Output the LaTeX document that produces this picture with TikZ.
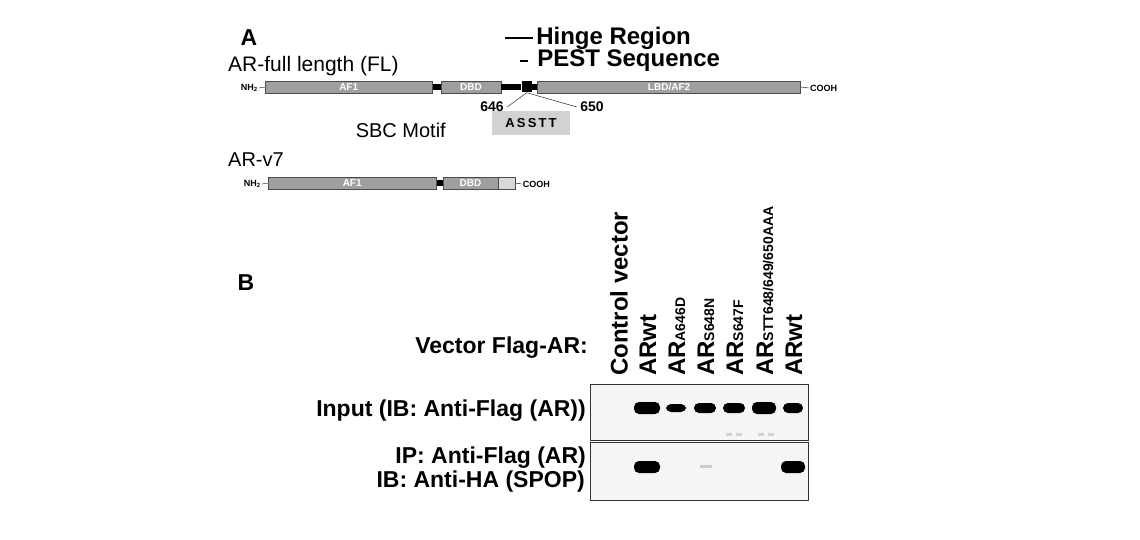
\documentclass[tikz,border=0pt]{standalone}
\usepackage{fontspec}
\setmainfont{Liberation Sans}
\usetikzlibrary{positioning, calc}
\tikzstyle{dombox} = [draw=black!70, fill=gray!75, text=white, inner sep=0pt, minimum height=12pt, font=\fontsize{10}{10}\selectfont\bfseries, anchor=west]
\tikzstyle{linkbar} = [fill=black, inner sep=0pt, minimum height=6pt, anchor=west]
\tikzstyle{termtext} = [font=\fontsize{9}{9}\selectfont\bfseries, inner sep=1pt]
\tikzstyle{lanetext} = [rotate=90, anchor=west, font=\fontsize{24}{24}\selectfont\bfseries, inner sep=0pt]
\tikzstyle{blot} = [draw=black!80, fill=gray!8, line width=1pt]
\tikzstyle{band} = [fill=black, rounded corners=5pt]
\tikzstyle{rowlabel} = [anchor=east, font=\fontsize{23}{23}\selectfont\bfseries, inner sep=0pt]

\begin{document}
\begin{tikzpicture}[x=1pt, y=-1pt]
        \useasboundingbox (0,0) rectangle (1140,540);

        % Panel A
        \node[font=\fontsize{23}{23}\selectfont\bfseries] (A) at (249,38) {A};
        \coordinate (hl) at (505,38);
        \coordinate (pl) at (520,61);
        \draw[line width=2.5pt] (hl) -- ++(28,0) node[right, inner sep=2pt, font=\fontsize{24}{24}\selectfont\bfseries] (hinge) {Hinge Region};
        \draw[line width=2.5pt] (pl) -- ++(8,0) node[right, inner sep=8pt, font=\fontsize{24}{24}\selectfont\bfseries] (pest) {PEST Sequence};
        \node[anchor=west, font=\fontsize{21}{21}\selectfont, inner sep=0pt] (fl) at (228,66) {AR-full length (FL)};

        % Full length bar
        \node[termtext, anchor=east] (nh) at (259,88) {NH\textsubscript{2}};
        \node[dombox, minimum width=167pt] (af1) at (265,87) {AF1};
        \node[linkbar, minimum width=8pt] (k1) at (af1.east) {};
        \node[dombox, minimum width=60pt] (dbd) at (k1.east) {DBD};
        \node[linkbar, minimum width=20pt] (hr) at (dbd.east) {};
        \node[fill=black, inner sep=0pt, minimum width=10pt, minimum height=11pt, anchor=west] (ps) at (hr.east) {};
        \node[linkbar, minimum width=5pt] (k2) at (ps.east) {};
        \node[dombox, minimum width=263pt] (lbd) at (k2.east) {LBD/AF2};
        \node[termtext, anchor=west] (cooh) at ($(lbd.east)+(8,1)$) {COOH};
        \draw (nh.east) -- (af1.west);
        \draw (lbd.east) -- (cooh.west);

        % SBC motif
        \node[fill=gray!35, minimum width=78pt, minimum height=24pt, inner sep=0pt, font=\fontsize{13}{13}\selectfont\bfseries] (sbc) at (531,123) {A\,S\,S\,T\,T};
        \node[font=\fontsize{14}{14}\selectfont\bfseries] (n646) at (492,107) {646};
        \node[font=\fontsize{14}{14}\selectfont\bfseries] (n650) at (592,107) {650};
        \draw (ps.south) -- (n646.east);
        \draw (ps.south) -- (n650.west);
        \node[anchor=east, font=\fontsize{20}{20}\selectfont, inner sep=0pt] (sbct) at (446,130) {SBC Motif};

        % AR-v7 bar
        \node[anchor=west, font=\fontsize{20}{20}\selectfont, inner sep=0pt] (v7) at (228,160) {AR-v7};
        \node[termtext, anchor=east] (nh7) at (262,184) {NH\textsubscript{2}};
        \node[dombox, minimum width=168pt] (af17) at (268,183) {AF1};
        \node[linkbar, minimum width=6pt] (k7) at (af17.east) {};
        \node[dombox, minimum width=55pt] (dbd7) at (k7.east) {DBD};
        \node[dombox, fill=gray!30, minimum width=17pt] (cr7) at (dbd7.east) {};
        \node[termtext, anchor=west] (cooh7) at ($(cr7.east)+(6,1)$) {COOH};
        \draw (nh7.east) -- (af17.west);
        \draw (cr7.east) -- (cooh7.west);

        % Panel B
        \node[font=\fontsize{23}{23}\selectfont\bfseries] (B) at (246,283) {B};
        \node[rowlabel] (vec) at (588,348) {Vector Flag-AR:};
        \foreach \i/\x/\lbl in {1/618/Control vector, 2/647/ARwt,
            3/676/AR{\fontsize{14}{14}\selectfont A646D}, 4/705/AR{\fontsize{14}{14}\selectfont S648N},
            5/734/AR{\fontsize{14}{14}\selectfont S647F}, 6/764/AR{\fontsize{14}{14}\selectfont STT648/649/650AAA},
            7/793/ARwt}
          \node[lanetext] (ln\i) at (\x+1,376) {\lbl};

        % Blots
        \draw[blot] (590,384) rectangle (808,440);
        \draw[blot] (590,442) rectangle (808,500);
        \foreach \x/\w/\h in {647/13/6, 676/10/4, 705/11/5, 734/11/5, 764/12/6, 793/10/5}
          \fill[band] (\x-\w,408-\h) rectangle (\x+\w,408+\h);
        \foreach \x/\w/\h in {647/13/6, 793/12/6}
          \fill[band] (\x-\w,467-\h) rectangle (\x+\w,467+\h);
        \fill[gray!40] (700,465) rectangle (712,468);
        \foreach \x in {726,736,758,768}
          \fill[gray!35] (\x,433) rectangle (\x+6,436);

        \node[rowlabel] (inp) at (586,411) {Input (IB: Anti-Flag (AR))};
        \node[rowlabel] (ip) at (586,458) {IP: Anti-Flag (AR)};
        \node[rowlabel] (ib) at (585,482) {IB: Anti-HA (SPOP)};
      \end{tikzpicture}
\end{document}
